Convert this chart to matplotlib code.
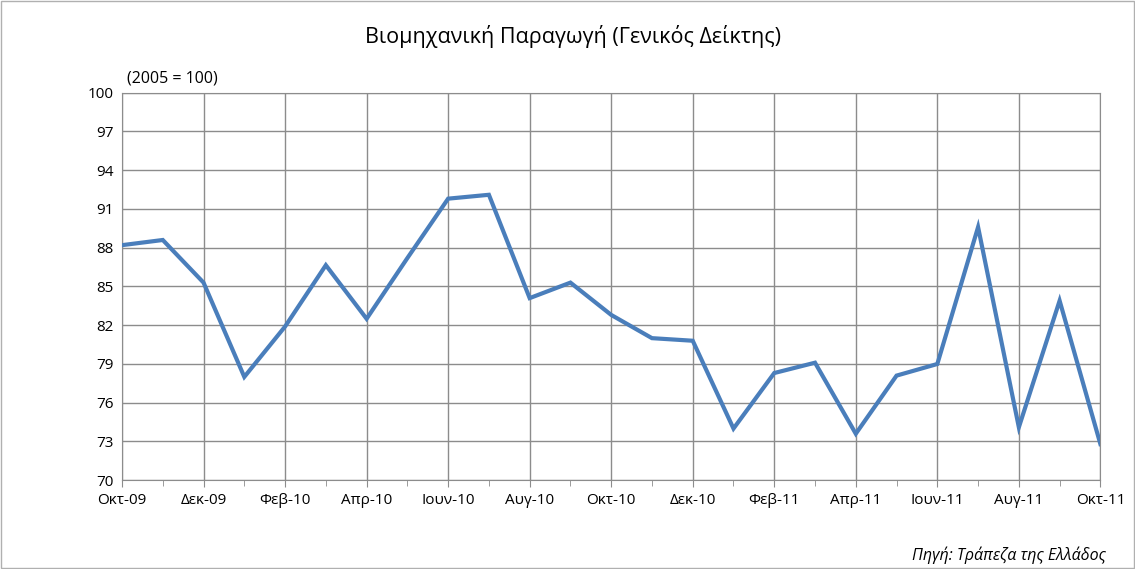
import numpy as np
import matplotlib
matplotlib.use("Agg")
import matplotlib.pyplot as plt
from matplotlib.patches import Rectangle

# μηνιαία στοιχεία Οκτ-09 .. Οκτ-11
months = ["Οκτ-09", "Νοε-09", "Δεκ-09", "Ιαν-10", "Φεβ-10", "Μαρ-10", "Απρ-10",
          "Μαϊ-10", "Ιουν-10", "Ιουλ-10", "Αυγ-10", "Σεπ-10", "Οκτ-10", "Νοε-10",
          "Δεκ-10", "Ιαν-11", "Φεβ-11", "Μαρ-11", "Απρ-11", "Μαϊ-11", "Ιουν-11",
          "Ιουλ-11", "Αυγ-11", "Σεπ-11", "Οκτ-11"]
index_vals = [88.2, 88.6, 85.3, 78.0, 81.9, 86.65, 82.5, 87.2, 91.8, 92.1, 84.1, 85.3,
              82.8, 81.0, 80.8, 74.0, 78.3, 79.1, 73.6, 78.1, 79.0, 89.6, 74.1, 83.9, 72.8]
yticks = list(range(70, 101, 3))

plt.rcParams["font.family"] = ["Open Sans", "DejaVu Sans"]

fig = plt.figure(figsize=(11.35, 5.69), dpi=100)
ax = fig.add_axes([0.1075, 0.156, 0.862, 0.681])

x = np.arange(len(months))
ax.plot(x, index_vals, color="#4A7EBB", lw=3.0, solid_joinstyle="miter", zorder=3)

ax.set_xlim(0, len(months) - 1)
ax.set_ylim(70, 100)
ax.set_yticks(yticks)
ax.set_xticks(x[::2])
ax.set_xticklabels(months[::2])
ax.set_xticks(x[1::2], minor=True)

ax.grid(True, which="major", color="#8c8c8c", lw=1.0)
for s in ax.spines.values():
    s.set_color("#8c8c8c")
ax.tick_params(axis="x", which="major", length=5, color="#8c8c8c", labelsize=11, pad=4)
ax.tick_params(axis="x", which="minor", length=4, color="#8c8c8c")
ax.tick_params(axis="y", length=0, labelsize=11, pad=6)

fig.text(0.505, 0.935, "Βιομηχανική Παραγωγή (Γενικός Δείκτης)", ha="center", va="center", fontsize=15.5)
fig.text(0.112, 0.862, "(2005 = 100)", ha="left", va="center", fontsize=11.5)
fig.text(0.974, 0.025, "Πηγή: Τράπεζα της Ελλάδος", ha="right", va="center", fontsize=11.5, style="italic")

fig.add_artist(Rectangle((0.001, 0.001), 0.998, 0.998, transform=fig.transFigure,
                         fill=False, edgecolor="#b0b0b0", lw=1))

fig.savefig("out.png", dpi=100)
